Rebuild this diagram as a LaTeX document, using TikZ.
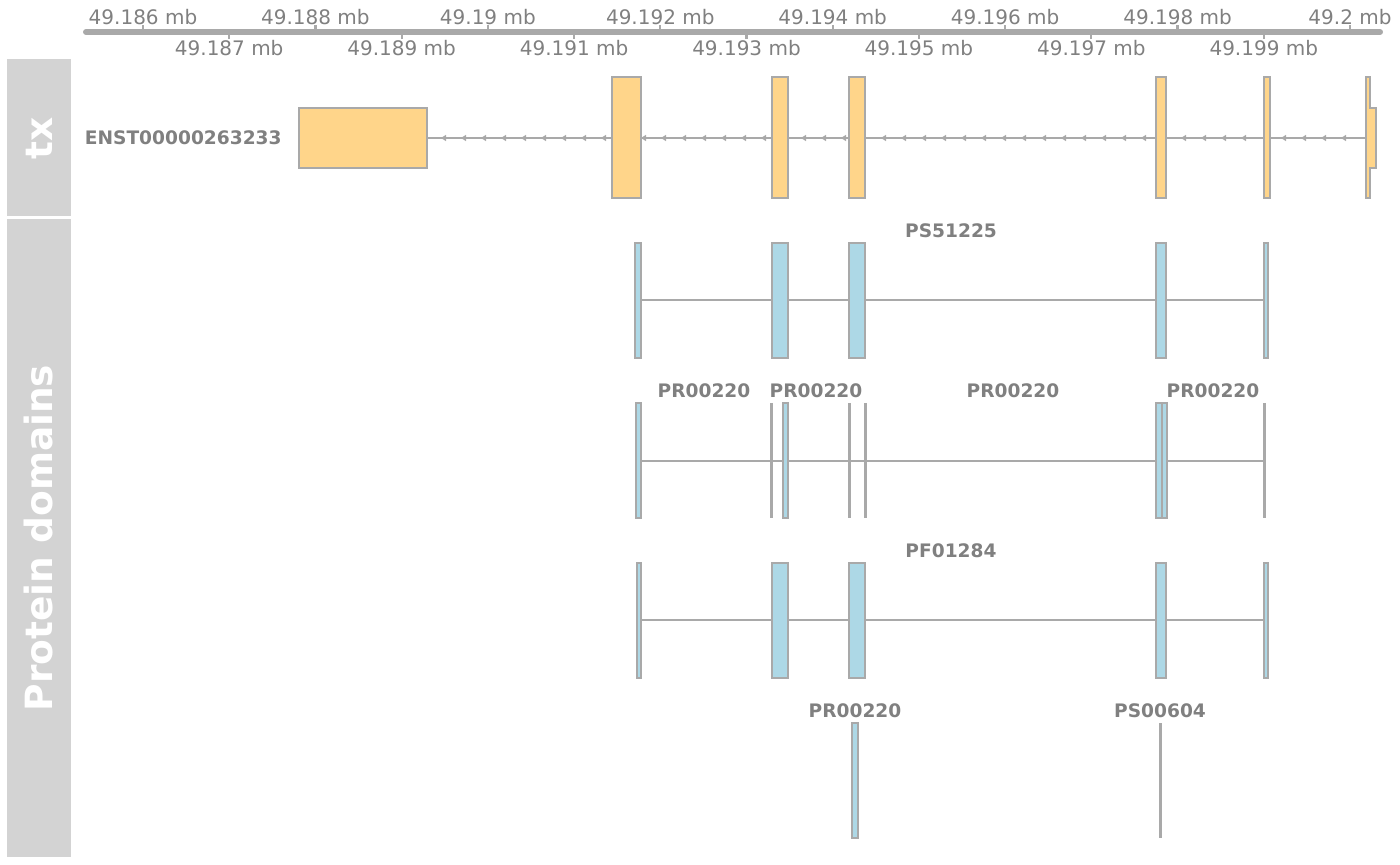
\documentclass[tikz,border=0pt]{standalone}
\usepackage{fontspec}
\setmainfont{DejaVu Sans}
\definecolor{exonfill}{HTML}{FFD58A}
\definecolor{domfill}{HTML}{ADD8E6}
\definecolor{bordgray}{HTML}{A9A9A9}
\definecolor{txtgray}{HTML}{808080}
\definecolor{panelgray}{HTML}{D3D3D3}
\begin{document}
\begin{tikzpicture}[x=0.5pt,y=-0.5pt,
  exon/.style={draw=bordgray,fill=exonfill,line width=1pt},
  dom/.style={draw=bordgray,fill=domfill,line width=1pt},
  conn/.style={draw=bordgray,line width=0.9pt},
  vbar/.style={draw=bordgray,line width=1.5pt},
  axlabel/.style={text=txtgray,font=\fontsize{10}{12}\selectfont,inner sep=0pt},
  domlabel/.style={text=txtgray,font=\bfseries\fontsize{9.3}{11}\selectfont,inner sep=0pt},
  paneltitle/.style={text=white,font=\bfseries\fontsize{18.75}{22}\selectfont,rotate=90,inner sep=0pt}]
\useasboundingbox (0,0) rectangle (1400,865);
% panels
\fill[panelgray] (7,59) rectangle (71,216);
\fill[panelgray] (7,219) rectangle (71,857);
\node[paneltitle] (ttx) at (39,138) {tx};
\node[paneltitle] (tpd) at (39,538) {Protein domains};
% axis
\draw[bordgray,line width=3pt,line cap=round] (86,32) -- (1380,32);
\foreach \lab [count=\k from 0] in {49.186,49.187,49.188,49.189,49.19,49.191,49.192,49.193,49.194,49.195,49.196,49.197,49.198,49.199,49.2}{
  \pgfmathsetmacro\xx{143+86.214*\k}
  \ifodd\k
    \draw[bordgray,line width=1.1pt] (\xx,32) -- (\xx,39);
    \node[axlabel] (ax\k) at (\xx,48) {\lab\ mb};
  \else
    \draw[bordgray,line width=1.1pt] (\xx,32) -- (\xx,25);
    \node[axlabel] (ax\k) at (\xx,17) {\lab\ mb};
  \fi
}
% transcript track
\draw[conn] (427,138) -- (1366,138);
\foreach \ax in {444,464,484,504,524,544,564,584,604,644,664,684,704,724,744,764,804,824,844,884,904,924,944,964,984,1004,1024,1044,1064,1084,1104,1124,1144,1184,1204,1224,1244,1284,1304,1324,1344}{
  \fill[bordgray] (\ax-3,138) -- (\ax+2,134.8) -- (\ax+2,141.2) -- cycle;
}
\draw[exon] (299,108) rectangle (427,168);
\draw[exon] (612,77) rectangle (641,198);
\draw[exon] (772,77) rectangle (788,198);
\draw[exon] (849,77) rectangle (865,198);
\draw[exon] (1156,77) rectangle (1166,198);
\draw[exon] (1264,77) rectangle (1270,198);
\draw[exon] (1366,77) -- (1370,77) -- (1370,108) -- (1376,108) -- (1376,168) -- (1370,168) -- (1370,198) -- (1366,198) -- cycle;
\node[domlabel,anchor=east] (txname) at (282,138) {ENST00000263233};
% domain row 1: PS51225
\draw[conn] (641,300) -- (1264,300);
\draw[dom] (635,243) rectangle (641,358);
\draw[dom] (772,243) rectangle (788,358);
\draw[dom] (849,243) rectangle (865,358);
\draw[dom] (1156,243) rectangle (1166,358);
\draw[dom] (1264,243) rectangle (1268,358);
\node[domlabel] (l1) at (951,231) {PS51225};
% domain row 2: PR00220
\draw[conn] (641,461) -- (1265,461);
\draw[dom] (636,403) rectangle (641,518);
\draw[vbar] (771.7,403) -- (771.7,518);
\draw[dom] (783,403) rectangle (788,518);
\draw[vbar] (849,403) -- (849,518);
\draw[vbar] (865,403) -- (865,518);
\draw[dom] (1156,403) rectangle (1161.7,518);
\draw[dom] (1161.7,403) rectangle (1166.5,518);
\draw[vbar] (1264.8,403) -- (1264.8,518);
\node[domlabel] (l2a) at (704,391) {PR00220};
\node[domlabel] (l2b) at (816,391) {PR00220};
\node[domlabel] (l2c) at (1013,391) {PR00220};
\node[domlabel] (l2d) at (1213,391) {PR00220};
% domain row 3: PF01284
\draw[conn] (641,620) -- (1264,620);
\draw[dom] (637,563) rectangle (641,678);
\draw[dom] (772,563) rectangle (788,678);
\draw[dom] (849,563) rectangle (865,678);
\draw[dom] (1156,563) rectangle (1166,678);
\draw[dom] (1264,563) rectangle (1268,678);
\node[domlabel] (l3) at (951,551) {PF01284};
% domain row 4
\draw[dom] (851.5,723) rectangle (858,838);
\draw[vbar] (1160.6,723) -- (1160.6,838);
\node[domlabel] (l4a) at (855,711) {PR00220};
\node[domlabel] (l4b) at (1160,711) {PS00604};
\end{tikzpicture}
\end{document}
